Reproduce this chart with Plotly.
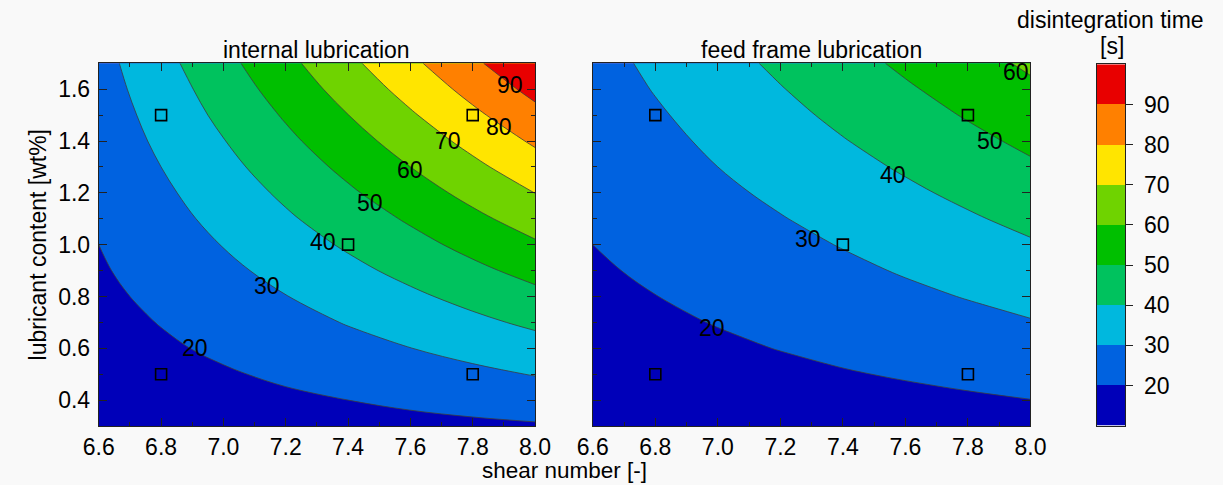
import plotly.graph_objects as go

# ---------------- data ----------------
shear_number = [6.6, 6.8, 7.0, 7.2, 7.4, 7.6, 7.8, 8.0]
lubricant = [0.3, 0.4, 0.5, 0.6, 0.7, 0.8, 0.9, 1.0, 1.1, 1.2, 1.3, 1.4, 1.5, 1.6, 1.7]

# disintegration time [s], rows = lubricant content, columns = shear number
z_internal = [
    [13.4, 14.2, 15.0, 15.8, 16.7, 17.5, 18.3, 19.1],
    [14.3, 15.7, 17.1, 18.6, 20.0, 21.6, 23.2, 24.8],
    [15.3, 17.2, 19.2, 21.3, 23.5, 25.7, 28.0, 30.4],
    [16.2, 18.8, 21.4, 24.1, 27.0, 29.9, 32.9, 36.1],
    [17.2, 20.3, 23.6, 26.9, 30.5, 34.1, 37.9, 41.8],
    [18.1, 21.9, 25.8, 29.8, 34.0, 38.3, 42.8, 47.4],
    [19.1, 23.5, 28.0, 32.7, 37.6, 42.6, 47.8, 53.1],
    [20.0, 25.1, 30.3, 35.7, 41.2, 46.9, 52.8, 58.8],
    [20.9, 26.7, 32.6, 38.7, 44.9, 51.2, 57.8, 64.4],
    [21.9, 28.3, 34.9, 41.7, 48.6, 55.6, 62.8, 70.1],
    [22.8, 30.0, 37.3, 44.8, 52.3, 60.0, 67.8, 75.8],
    [23.8, 31.7, 39.7, 47.9, 56.1, 64.4, 72.9, 81.4],
    [24.7, 33.4, 42.2, 51.0, 59.9, 68.9, 78.0, 87.1],
    [25.7, 35.1, 44.6, 54.2, 63.8, 73.4, 83.1, 92.8],
    [26.6, 36.9, 47.1, 57.4, 67.7, 77.9, 88.2, 98.5],
]
z_feed = [
    [13.2, 13.7, 14.2, 14.7, 15.2, 15.7, 16.2, 16.7],
    [14.2, 14.9, 15.7, 16.5, 17.3, 18.2, 19.0, 19.9],
    [15.1, 16.2, 17.2, 18.3, 19.5, 20.6, 21.8, 23.1],
    [16.1, 17.4, 18.8, 20.2, 21.6, 23.1, 24.7, 26.3],
    [17.1, 18.7, 20.3, 22.0, 23.8, 25.6, 27.5, 29.5],
    [18.1, 19.9, 21.9, 23.9, 26.0, 28.2, 30.4, 32.7],
    [19.0, 21.2, 23.5, 25.8, 28.2, 30.7, 33.3, 35.9],
    [20.0, 22.5, 25.1, 27.7, 30.4, 33.2, 36.1, 39.1],
    [21.0, 23.8, 26.7, 29.6, 32.7, 35.8, 39.0, 42.3],
    [21.9, 25.1, 28.3, 31.6, 35.0, 38.4, 41.9, 45.5],
    [22.9, 26.4, 30.0, 33.6, 37.3, 41.0, 44.8, 48.7],
    [23.9, 27.7, 31.6, 35.6, 39.6, 43.6, 47.7, 51.9],
    [24.8, 29.0, 33.3, 37.6, 41.9, 46.3, 50.7, 55.1],
    [25.8, 30.4, 35.0, 39.6, 44.3, 48.9, 53.6, 58.3],
    [26.8, 31.7, 36.7, 41.7, 46.6, 51.6, 56.5, 61.5],
]

design_x = [6.8, 6.8, 7.4, 7.8, 7.8]
design_y = [0.5, 1.5, 1.0, 0.5, 1.5]

levels = [20, 30, 40, 50, 60, 70, 80, 90]
band_edges = [10, 20, 30, 40, 50, 60, 70, 80, 90, 100]
band_colors = ["#0000b9", "#0062e0", "#00b8de", "#00c25e", "#00bf00",
               "#6fd300", "#ffe500", "#ff8000", "#e80000"]

# contour label positions (shear number, lubricant content, text)
labels_internal_x = [6.91, 7.14, 7.32, 7.47, 7.60, 7.72, 7.885, 7.92]
labels_internal_y = [0.60, 0.84, 1.01, 1.16, 1.29, 1.40, 1.455, 1.616]
labels_internal_t = ["20", "30", "40", "50", "60", "70", "80", "90"]
labels_feed_x = [6.98, 7.29, 7.56, 7.87, 7.955]
labels_feed_y = [0.68, 1.02, 1.27, 1.40, 1.665]
labels_feed_t = ["20", "30", "40", "50", "60"]

titles = ["internal lubrication", "feed frame lubrication"]

# ---------------- figure ----------------
W, H = 1223, 485
FONT = "Arial, Liberation Sans, sans-serif"
FS = 23
INK = "#222222"

n = len(band_colors)
colorscale = [[k / (n - 1), c] for k, c in enumerate(band_colors)]
contour_spec = dict(start=levels[0], end=levels[-1], size=levels[1] - levels[0],
                    coloring="fill", showlines=True)

fig = go.Figure()
for z, xa, ya in ((z_internal, "x", "y"), (z_feed, "x2", "y2")):
    fig.add_trace(go.Contour(
        x=shear_number, y=lubricant, z=z, xaxis=xa, yaxis=ya,
        autocontour=False, contours=contour_spec, colorscale=colorscale,
        line=dict(color="#3c3c3c", width=0.8, smoothing=1.0),
        showscale=False, hoverinfo="skip",
    ))
for xa, ya in (("x", "y"), ("x2", "y2")):
    fig.add_trace(go.Scatter(
        x=design_x, y=design_y, xaxis=xa, yaxis=ya, mode="markers",
        marker=dict(symbol="square-open", size=11, color="black",
                    line=dict(width=1.6, color="black")),
        showlegend=False, hoverinfo="skip",
    ))

# colour bar drawn as a one-column heatmap on its own axes
fig.add_trace(go.Heatmap(
    x=[0, 1], y=band_edges, z=[[i] for i in range(n)],
    xaxis="x3", yaxis="y3", colorscale=colorscale, zmin=0, zmax=n - 1,
    showscale=False, hoverinfo="skip",
))

axis_common = dict(
    showline=True, linecolor=INK, linewidth=1, mirror="ticks",
    ticks="inside", ticklen=8, tickcolor=INK, tickwidth=1,
    showgrid=False, zeroline=False,
    tickfont=dict(family=FONT, size=FS, color="black"),
)
minor = dict(dtick=0.1, ticks="inside", ticklen=4, tickcolor=INK)
xdom1 = [85 / W, 533 / W]
xdom2 = [592.3 / W, 1041.7 / W]
xdom3 = [1110 / W, 1139.3 / W]
ydom = [1 - 426 / H, 1 - 63.3 / H]
ydom3 = [1 - 425.7 / H, 1 - 64.3 / H]

fig.update_layout(
    width=W, height=H,
    margin=dict(l=0, r=0, t=0, b=0),
    paper_bgcolor="#f9f9f9", plot_bgcolor="#f9f9f9",
    showlegend=False,
    font=dict(family=FONT, size=FS, color="black"),
    xaxis=dict(domain=xdom1, anchor="y", range=[6.6, 8.0], dtick=0.2, tick0=6.6,
               tickformat=".1f", minor=minor, **axis_common),
    yaxis=dict(domain=ydom, anchor="x", range=[0.3, 1.7], dtick=0.2, tick0=0.4,
               tickformat=".1f", minor=minor, ticklabelstandoff=3, **axis_common),
    xaxis2=dict(domain=xdom2, anchor="y2", range=[6.6, 8.0], dtick=0.2, tick0=6.6,
                tickformat=".1f", minor=minor, **axis_common),
    yaxis2=dict(domain=ydom, anchor="x2", range=[0.3, 1.7], dtick=0.2, tick0=0.4,
                showticklabels=False, minor=minor, **axis_common),
    xaxis3=dict(domain=xdom3, anchor="y3", range=[0, 1], showticklabels=False,
                ticks="", showline=True, mirror=True, linecolor=INK, linewidth=1,
                showgrid=False, zeroline=False),
    yaxis3=dict(domain=ydom3, anchor="x3", side="right", range=[10, 100],
                tickvals=levels, ticks="outside", ticklen=7, tickcolor=INK,
                ticklabelstandoff=6,
                showline=True, mirror=True, linecolor=INK, linewidth=1,
                showgrid=False, zeroline=False,
                tickfont=dict(family=FONT, size=FS, color="black")),
)

ann = []
for xs, ys, ts, xr, yr in ((labels_internal_x, labels_internal_y, labels_internal_t, "x", "y"),
                           (labels_feed_x, labels_feed_y, labels_feed_t, "x2", "y2")):
    for lx, ly, lt in zip(xs, ys, ts):
        ann.append(dict(x=lx, y=ly, xref=xr, yref=yr, text=lt, showarrow=False,
                        font=dict(family=FONT, size=FS, color="black")))


def paper(px, py):
    return px / W, 1 - py / H


def text_at(px_, py_, text, angle=0, size=FS, yanchor="middle"):
    px, py = paper(px_, py_)
    ann.append(dict(x=px, y=py, xref="paper", yref="paper", text=text,
                    showarrow=False, textangle=angle, borderpad=0,
                    xanchor="center", yanchor=yanchor,
                    font=dict(family=FONT, size=size, color="black")))


text_at((85 + 533) / 2, 50, titles[0])
text_at((592.3 + 1041.7) / 2, 50, titles[1])
text_at(563, 484, "shear number [-]", size=22.5, yanchor="bottom")
text_at(23, 245, "lubricant content [wt%]", angle=-90)
text_at(1124, 20, "disintegration time")
text_at(1125, 46, "[s]")
fig.update_layout(annotations=ann)

fig.write_html("out.html",
               config={"displayModeBar": False},
               post_script="document.body.style.margin='0px';"
                           "document.body.style.overflow='hidden';")
